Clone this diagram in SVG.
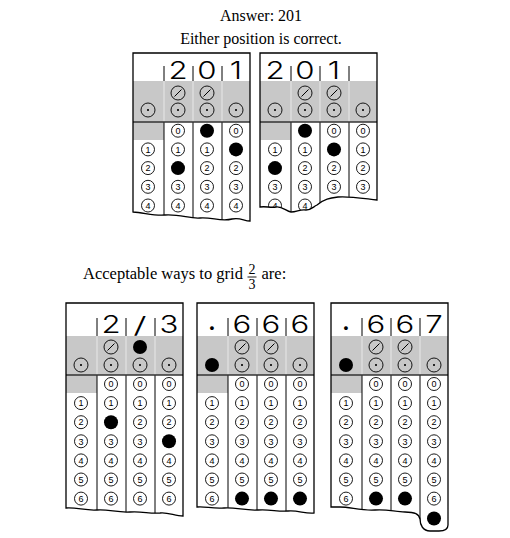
<svg xmlns="http://www.w3.org/2000/svg" xmlns:xlink="http://www.w3.org/1999/xlink" width="510" height="538" viewBox="0 0 510 538">
<style>
.o{fill:none;stroke:#000;stroke-width:1.3}
.g{fill:#c8c8c8}
.w{stroke:#e8e8e8;stroke-width:1}
.d{stroke:#000;stroke-width:1;fill:none}
.tk{stroke:#333;stroke-width:1.6}
.c{fill:#fff;stroke:#000;stroke-width:0.9}
.e{fill:none;stroke:#000;stroke-width:0.9}
.f{fill:#000}
.n{font-family:"Liberation Sans",Arial,sans-serif;font-size:9px;text-anchor:middle}
.h{font-family:Inter,"Liberation Sans",Arial,sans-serif;font-weight:300;font-size:24px;text-anchor:middle}
.t{font-family:"Liberation Serif","Times New Roman",serif;font-size:16px}
.fr{font-family:"Liberation Serif","Times New Roman",serif;font-size:14px;text-anchor:middle}
</style>
<defs>
<g id="sl"><circle class="e" r="7"/><line class="d" x1="-3.5" y1="3.5" x2="3.5" y2="-3.5"/></g>
<g id="dt"><circle class="e" r="7"/><circle r="1.1"/></g>
<path id="oa" d="M0,53 H117 V221 C111,221 107,217 99,219 C88,222 79,217 67,218 C57,219 47,214 32,215 C22,216 12,213 0,212 Z"/>
<path id="ob" d="M0,53 H117 V200 C100,198 88,196 78,197 C70,198 64,199 57,205 C53,207 51,210 46,210 C40,209 37,212 31,212 C26,211 22,206 16,207 C10,208 6,206 0,207 Z"/>
<path id="oc" d="M0,303 H117 V516 C109,516 102,512 94,513 C84,514 76,511 64,512 C52,513 42,509 31,510 C20,511 10,507 0,508 Z"/>
<path id="od" d="M0,303 H117 V513 C108,514 101,510 91,511 C81,512 73,509 61,510 C49,511 38,507 27,508 C15,509 8,506 0,507 Z"/>
<path id="oe" d="M0,303 H117 V525 C117,529 114,531 108,531 L99,531 C92,531 89,525 89,519 C88,514 84,512 74,512 C64,512 57,509 44,510 C31,511 19,507 9,507 L0,507 Z"/>
<clipPath id="ca"><use xlink:href="#oa"/></clipPath>
<clipPath id="cb"><use xlink:href="#ob"/></clipPath>
<clipPath id="cc"><use xlink:href="#oc"/></clipPath>
<clipPath id="cd"><use xlink:href="#od"/></clipPath>
<clipPath id="ce"><use xlink:href="#oe"/></clipPath>
</defs>

<g id="titles">
<text class="t" x="261" y="20.5" text-anchor="middle">Answer: 201</text>
<text class="t" x="261" y="43.5" text-anchor="middle">Either position is correct.</text>
<text class="t" x="83" y="279" style="font-size:16.5px">Acceptable ways to grid</text>
<text class="fr" x="252" y="273.5">2</text>
<line x1="247.5" y1="277" x2="256.5" y2="277" stroke="#000" stroke-width="0.9"/>
<text class="fr" x="252" y="289">3</text>
<text class="t" x="261.5" y="279" style="font-size:16.5px">are:</text>
</g>

<!-- Grid A -->
<g id="grid-a" transform="translate(133,0)">
<g clip-path="url(#ca)">
<rect class="g" x="0" y="81" width="117" height="41"/>
<rect class="g" x="0" y="122" width="31" height="18"/>
<path class="w" d="M31,81V122M60,81V122M89,81V122"/>
<path class="d" d="M31,66V81M60,66V81M89,66V81M31,122V240M60,122V240M89,122V240"/>
<line class="tk" x1="0" y1="122" x2="117" y2="122"/>
<use xlink:href="#dt" x="15" y="110"/>
<use xlink:href="#sl" x="45" y="93"/><use xlink:href="#dt" x="45" y="110"/>
<use xlink:href="#sl" x="74" y="93"/><use xlink:href="#dt" x="74" y="110"/>
<use xlink:href="#dt" x="103" y="110"/>
<g transform="translate(15,0)">
<circle class="c" cy="149.4" r="6.5"/><text class="n" y="152.6">1</text>
<circle class="c" cy="168.1" r="6.5"/><text class="n" y="171.3">2</text>
<circle class="c" cy="186.8" r="6.5"/><text class="n" y="190">3</text>
<circle class="c" cy="205.5" r="6.5"/><text class="n" y="208.7">4</text>
</g>
<g transform="translate(45,0)">
<circle class="c" cy="130.7" r="6.5"/><text class="n" y="133.9">0</text>
<circle class="c" cy="149.4" r="6.5"/><text class="n" y="152.6">1</text>
<circle class="f" cy="168.1" r="7"/>
<circle class="c" cy="186.8" r="6.5"/><text class="n" y="190">3</text>
<circle class="c" cy="205.5" r="6.5"/><text class="n" y="208.7">4</text>
</g>
<g transform="translate(74,0)">
<circle class="f" cy="130.7" r="7"/>
<circle class="c" cy="149.4" r="6.5"/><text class="n" y="152.6">1</text>
<circle class="c" cy="168.1" r="6.5"/><text class="n" y="171.3">2</text>
<circle class="c" cy="186.8" r="6.5"/><text class="n" y="190">3</text>
<circle class="c" cy="205.5" r="6.5"/><text class="n" y="208.7">4</text>
</g>
<g transform="translate(103,0)">
<circle class="c" cy="130.7" r="6.5"/><text class="n" y="133.9">0</text>
<circle class="f" cy="149.4" r="7"/>
<circle class="c" cy="168.1" r="6.5"/><text class="n" y="171.3">2</text>
<circle class="c" cy="186.8" r="6.5"/><text class="n" y="190">3</text>
<circle class="c" cy="205.5" r="6.5"/><text class="n" y="208.7">4</text>
</g>
</g>
<use xlink:href="#oa" class="o"/>
<text class="h" transform="translate(45,79) scale(1.3,1)">2</text>
<text class="h" transform="translate(74,79) scale(1.3,1)">0</text>
<text class="h" transform="translate(103,79) scale(1.3,1)">1</text>
</g>

<!-- Grid B -->
<g id="grid-b" transform="translate(260,0)">
<g clip-path="url(#cb)">
<rect class="g" x="0" y="81" width="117" height="41"/>
<rect class="g" x="0" y="122" width="31" height="18"/>
<path class="w" d="M31,81V122M60,81V122M89,81V122"/>
<path class="d" d="M31,66V81M60,66V81M89,66V81M31,122V240M60,122V240M89,122V240"/>
<line class="tk" x1="0" y1="122" x2="117" y2="122"/>
<use xlink:href="#dt" x="15" y="110"/>
<use xlink:href="#sl" x="45" y="93"/><use xlink:href="#dt" x="45" y="110"/>
<use xlink:href="#sl" x="74" y="93"/><use xlink:href="#dt" x="74" y="110"/>
<use xlink:href="#dt" x="103" y="110"/>
<g transform="translate(15,0)">
<circle class="c" cy="149.4" r="6.5"/><text class="n" y="152.6">1</text>
<circle class="f" cy="168.1" r="7"/>
<circle class="c" cy="186.8" r="6.5"/><text class="n" y="190">3</text>
<circle class="c" cy="205.5" r="6.5"/><text class="n" y="208.7">4</text>
</g>
<g transform="translate(45,0)">
<circle class="f" cy="130.7" r="7"/>
<circle class="c" cy="149.4" r="6.5"/><text class="n" y="152.6">1</text>
<circle class="c" cy="168.1" r="6.5"/><text class="n" y="171.3">2</text>
<circle class="c" cy="186.8" r="6.5"/><text class="n" y="190">3</text>
<circle class="c" cy="205.5" r="6.5"/><text class="n" y="208.7">4</text>
</g>
<g transform="translate(74,0)">
<circle class="c" cy="130.7" r="6.5"/><text class="n" y="133.9">0</text>
<circle class="f" cy="149.4" r="7"/>
<circle class="c" cy="168.1" r="6.5"/><text class="n" y="171.3">2</text>
<circle class="c" cy="186.8" r="6.5"/><text class="n" y="190">3</text>
<circle class="c" cy="205.5" r="6.5"/><text class="n" y="208.7">4</text>
</g>
<g transform="translate(103,0)">
<circle class="c" cy="130.7" r="6.5"/><text class="n" y="133.9">0</text>
<circle class="c" cy="149.4" r="6.5"/><text class="n" y="152.6">1</text>
<circle class="c" cy="168.1" r="6.5"/><text class="n" y="171.3">2</text>
<circle class="c" cy="186.8" r="6.5"/><text class="n" y="190">3</text>
<circle class="c" cy="205.5" r="6.5"/><text class="n" y="208.7">4</text>
</g>
</g>
<use xlink:href="#ob" class="o"/>
<text class="h" transform="translate(15,79) scale(1.3,1)">2</text>
<text class="h" transform="translate(45,79) scale(1.3,1)">0</text>
<text class="h" transform="translate(74,79) scale(1.3,1)">1</text>
</g>

<!-- Grid C -->
<g id="grid-c" transform="translate(66,0)">
<g clip-path="url(#cc)">
<rect class="g" x="0" y="336" width="117" height="39"/>
<rect class="g" x="0" y="375" width="31" height="18"/>
<path class="w" d="M31,336V375M60,336V375M89,336V375"/>
<path class="d" d="M31,318V336M60,318V336M89,318V336M31,375V540M60,375V540M89,375V540"/>
<line class="tk" x1="0" y1="375" x2="117" y2="375"/>
<use xlink:href="#dt" x="15" y="365"/>
<use xlink:href="#sl" x="45" y="347"/><use xlink:href="#dt" x="45" y="365"/>
<circle class="f" cx="74" cy="347" r="7"/><use xlink:href="#dt" x="74" y="365"/>
<use xlink:href="#dt" x="103" y="365"/>
<g transform="translate(15,0)">
<circle class="c" cy="403.1" r="6.5"/><text class="n" y="406.3">1</text>
<circle class="c" cy="422.2" r="6.5"/><text class="n" y="425.4">2</text>
<circle class="c" cy="441.3" r="6.5"/><text class="n" y="444.5">3</text>
<circle class="c" cy="460.4" r="6.5"/><text class="n" y="463.6">4</text>
<circle class="c" cy="479.5" r="6.5"/><text class="n" y="482.7">5</text>
<circle class="c" cy="498.6" r="6.5"/><text class="n" y="501.8">6</text>
</g>
<g transform="translate(45,0)">
<circle class="c" cy="384" r="6.5"/><text class="n" y="387.2">0</text>
<circle class="c" cy="403.1" r="6.5"/><text class="n" y="406.3">1</text>
<circle class="f" cy="422.2" r="7"/>
<circle class="c" cy="441.3" r="6.5"/><text class="n" y="444.5">3</text>
<circle class="c" cy="460.4" r="6.5"/><text class="n" y="463.6">4</text>
<circle class="c" cy="479.5" r="6.5"/><text class="n" y="482.7">5</text>
<circle class="c" cy="498.6" r="6.5"/><text class="n" y="501.8">6</text>
</g>
<g transform="translate(74,0)">
<circle class="c" cy="384" r="6.5"/><text class="n" y="387.2">0</text>
<circle class="c" cy="403.1" r="6.5"/><text class="n" y="406.3">1</text>
<circle class="c" cy="422.2" r="6.5"/><text class="n" y="425.4">2</text>
<circle class="c" cy="441.3" r="6.5"/><text class="n" y="444.5">3</text>
<circle class="c" cy="460.4" r="6.5"/><text class="n" y="463.6">4</text>
<circle class="c" cy="479.5" r="6.5"/><text class="n" y="482.7">5</text>
<circle class="c" cy="498.6" r="6.5"/><text class="n" y="501.8">6</text>
</g>
<g transform="translate(103,0)">
<circle class="c" cy="384" r="6.5"/><text class="n" y="387.2">0</text>
<circle class="c" cy="403.1" r="6.5"/><text class="n" y="406.3">1</text>
<circle class="c" cy="422.2" r="6.5"/><text class="n" y="425.4">2</text>
<circle class="f" cy="441.3" r="7"/>
<circle class="c" cy="460.4" r="6.5"/><text class="n" y="463.6">4</text>
<circle class="c" cy="479.5" r="6.5"/><text class="n" y="482.7">5</text>
<circle class="c" cy="498.6" r="6.5"/><text class="n" y="501.8">6</text>
</g>
</g>
<use xlink:href="#oc" class="o"/>
<text class="h" transform="translate(45,333) scale(1.3,1)">2</text>
<text class="h" transform="translate(74,333) scale(1.6,0.95)">/</text>
<text class="h" transform="translate(103,333) scale(1.3,1)">3</text>
</g>

<!-- Grid D -->
<g id="grid-d" transform="translate(197,0)">
<g clip-path="url(#cd)">
<rect class="g" x="0" y="336" width="117" height="39"/>
<rect class="g" x="0" y="375" width="31" height="18"/>
<path class="w" d="M31,336V375M60,336V375M89,336V375"/>
<path class="d" d="M31,318V336M60,318V336M89,318V336M31,375V540M60,375V540M89,375V540"/>
<line class="tk" x1="0" y1="375" x2="117" y2="375"/>
<circle class="f" cx="15" cy="365" r="7"/>
<use xlink:href="#sl" x="45" y="347"/><use xlink:href="#dt" x="45" y="365"/>
<use xlink:href="#sl" x="74" y="347"/><use xlink:href="#dt" x="74" y="365"/>
<use xlink:href="#dt" x="103" y="365"/>
<g transform="translate(15,0)">
<circle class="c" cy="403.1" r="6.5"/><text class="n" y="406.3">1</text>
<circle class="c" cy="422.2" r="6.5"/><text class="n" y="425.4">2</text>
<circle class="c" cy="441.3" r="6.5"/><text class="n" y="444.5">3</text>
<circle class="c" cy="460.4" r="6.5"/><text class="n" y="463.6">4</text>
<circle class="c" cy="479.5" r="6.5"/><text class="n" y="482.7">5</text>
<circle class="c" cy="498.6" r="6.5"/><text class="n" y="501.8">6</text>
</g>
<g transform="translate(45,0)">
<circle class="c" cy="384" r="6.5"/><text class="n" y="387.2">0</text>
<circle class="c" cy="403.1" r="6.5"/><text class="n" y="406.3">1</text>
<circle class="c" cy="422.2" r="6.5"/><text class="n" y="425.4">2</text>
<circle class="c" cy="441.3" r="6.5"/><text class="n" y="444.5">3</text>
<circle class="c" cy="460.4" r="6.5"/><text class="n" y="463.6">4</text>
<circle class="c" cy="479.5" r="6.5"/><text class="n" y="482.7">5</text>
<circle class="f" cy="498.6" r="7"/>
</g>
<g transform="translate(74,0)">
<circle class="c" cy="384" r="6.5"/><text class="n" y="387.2">0</text>
<circle class="c" cy="403.1" r="6.5"/><text class="n" y="406.3">1</text>
<circle class="c" cy="422.2" r="6.5"/><text class="n" y="425.4">2</text>
<circle class="c" cy="441.3" r="6.5"/><text class="n" y="444.5">3</text>
<circle class="c" cy="460.4" r="6.5"/><text class="n" y="463.6">4</text>
<circle class="c" cy="479.5" r="6.5"/><text class="n" y="482.7">5</text>
<circle class="f" cy="498.6" r="7"/>
</g>
<g transform="translate(103,0)">
<circle class="c" cy="384" r="6.5"/><text class="n" y="387.2">0</text>
<circle class="c" cy="403.1" r="6.5"/><text class="n" y="406.3">1</text>
<circle class="c" cy="422.2" r="6.5"/><text class="n" y="425.4">2</text>
<circle class="c" cy="441.3" r="6.5"/><text class="n" y="444.5">3</text>
<circle class="c" cy="460.4" r="6.5"/><text class="n" y="463.6">4</text>
<circle class="c" cy="479.5" r="6.5"/><text class="n" y="482.7">5</text>
<circle class="f" cy="498.6" r="7"/>
</g>
</g>
<use xlink:href="#od" class="o"/>
<text class="h" x="15" y="330" style="font-size:22px;font-weight:700">.</text>
<text class="h" transform="translate(45,333) scale(1.3,1)">6</text>
<text class="h" transform="translate(74,333) scale(1.3,1)">6</text>
<text class="h" transform="translate(103,333) scale(1.3,1)">6</text>
</g>

<!-- Grid E -->
<g id="grid-e" transform="translate(331,0)">
<g clip-path="url(#ce)">
<rect class="g" x="0" y="336" width="117" height="39"/>
<rect class="g" x="0" y="375" width="31" height="18"/>
<path class="w" d="M31,336V375M60,336V375M89,336V375"/>
<path class="d" d="M31,318V336M60,318V336M89,318V336M31,375V540M60,375V540M89,375V540"/>
<line class="tk" x1="0" y1="375" x2="117" y2="375"/>
<circle class="f" cx="15" cy="365" r="7"/>
<use xlink:href="#sl" x="45" y="347"/><use xlink:href="#dt" x="45" y="365"/>
<use xlink:href="#sl" x="74" y="347"/><use xlink:href="#dt" x="74" y="365"/>
<use xlink:href="#dt" x="103" y="365"/>
<g transform="translate(15,0)">
<circle class="c" cy="403.1" r="6.5"/><text class="n" y="406.3">1</text>
<circle class="c" cy="422.2" r="6.5"/><text class="n" y="425.4">2</text>
<circle class="c" cy="441.3" r="6.5"/><text class="n" y="444.5">3</text>
<circle class="c" cy="460.4" r="6.5"/><text class="n" y="463.6">4</text>
<circle class="c" cy="479.5" r="6.5"/><text class="n" y="482.7">5</text>
<circle class="c" cy="498.6" r="6.5"/><text class="n" y="501.8">6</text>
</g>
<g transform="translate(45,0)">
<circle class="c" cy="384" r="6.5"/><text class="n" y="387.2">0</text>
<circle class="c" cy="403.1" r="6.5"/><text class="n" y="406.3">1</text>
<circle class="c" cy="422.2" r="6.5"/><text class="n" y="425.4">2</text>
<circle class="c" cy="441.3" r="6.5"/><text class="n" y="444.5">3</text>
<circle class="c" cy="460.4" r="6.5"/><text class="n" y="463.6">4</text>
<circle class="c" cy="479.5" r="6.5"/><text class="n" y="482.7">5</text>
<circle class="f" cy="498.6" r="7"/>
</g>
<g transform="translate(74,0)">
<circle class="c" cy="384" r="6.5"/><text class="n" y="387.2">0</text>
<circle class="c" cy="403.1" r="6.5"/><text class="n" y="406.3">1</text>
<circle class="c" cy="422.2" r="6.5"/><text class="n" y="425.4">2</text>
<circle class="c" cy="441.3" r="6.5"/><text class="n" y="444.5">3</text>
<circle class="c" cy="460.4" r="6.5"/><text class="n" y="463.6">4</text>
<circle class="c" cy="479.5" r="6.5"/><text class="n" y="482.7">5</text>
<circle class="f" cy="498.6" r="7"/>
</g>
<g transform="translate(103,0)">
<circle class="c" cy="384" r="6.5"/><text class="n" y="387.2">0</text>
<circle class="c" cy="403.1" r="6.5"/><text class="n" y="406.3">1</text>
<circle class="c" cy="422.2" r="6.5"/><text class="n" y="425.4">2</text>
<circle class="c" cy="441.3" r="6.5"/><text class="n" y="444.5">3</text>
<circle class="c" cy="460.4" r="6.5"/><text class="n" y="463.6">4</text>
<circle class="c" cy="479.5" r="6.5"/><text class="n" y="482.7">5</text>
<circle class="c" cy="498.6" r="6.5"/><text class="n" y="501.8">6</text>
<circle class="f" cy="518.5" r="7"/>
</g>
</g>
<use xlink:href="#oe" class="o"/>
<text class="h" x="15" y="330" style="font-size:22px;font-weight:700">.</text>
<text class="h" transform="translate(45,333) scale(1.3,1)">6</text>
<text class="h" transform="translate(74,333) scale(1.3,1)">6</text>
<text class="h" transform="translate(103,333) scale(1.3,1)">7</text>
</g>
</svg>
